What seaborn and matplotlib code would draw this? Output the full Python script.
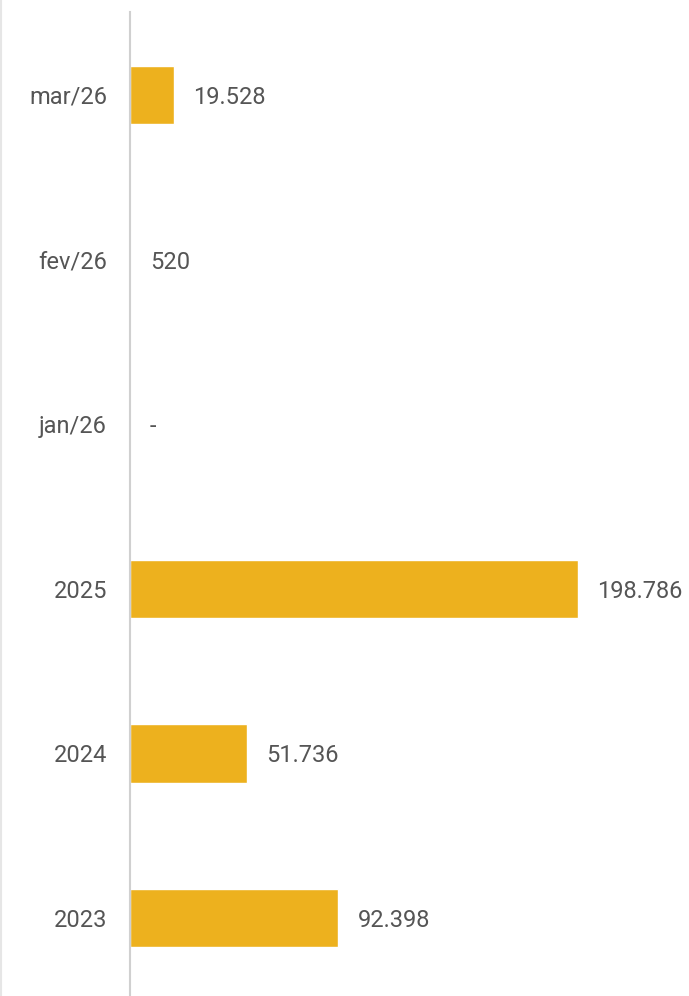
import matplotlib
matplotlib.use("Agg")
import matplotlib.pyplot as plt
import pandas as pd
import seaborn as sns
from matplotlib.lines import Line2D

# ── Data ─────────────────────────────────────────────────────────────────────
periods = ["mar/26", "fev/26", "jan/26", "2025", "2024", "2023"]
values = [19528, 520, 0, 198786, 51736, 92398]

BAR_COLOR = "#EDB11E"
TEXT_COLOR = "#555555"


def _fmt(v: int) -> str:
    """Brazilian thousands separator; zero shown as a dash."""
    if v == 0:
        return "-"
    return f"{v:,}".replace(",", ".")


def main():
    df = pd.DataFrame({"period": periods, "value": values})

    sns.set_theme(style="white")
    plt.rcParams["font.family"] = ["Roboto", "DejaVu Sans"]

    fig = plt.figure(figsize=(6.89, 9.96), dpi=100)
    ax = fig.add_axes([130 / 689, 0.0, 1 - 130 / 689, 1 - 12 / 996])

    sns.barplot(data=df, x="value", y="period", order=periods, color=BAR_COLOR,
                saturation=1, width=0.355, ax=ax)

    labels = ax.bar_label(ax.containers[0], labels=[_fmt(v) for v in values],
                          padding=14, fontsize=17, color=TEXT_COLOR)
    for t in labels:
        t.set_va("center_baseline")

    ax.set_xlim(0, 248000)
    ax.set_ylim(5.474, -0.504)
    ax.set_xlabel("")
    ax.set_ylabel("")
    ax.set_xticks([])
    ax.tick_params(axis="y", length=0, pad=16.5, labelsize=17, labelcolor=TEXT_COLOR)

    for side in ["top", "right", "bottom"]:
        ax.spines[side].set_visible(False)
    ax.spines["left"].set_color("#d0d0d0")
    ax.spines["left"].set_linewidth(1.5)

    # faint frame line on the far left edge
    fig.add_artist(Line2D([0.001, 0.001], [0, 1], transform=fig.transFigure,
                          color="#e6e6e6", linewidth=1.5))

    fig.savefig("out.png", dpi=100, facecolor="white")
    plt.close(fig)


if __name__ == "__main__":
    main()
